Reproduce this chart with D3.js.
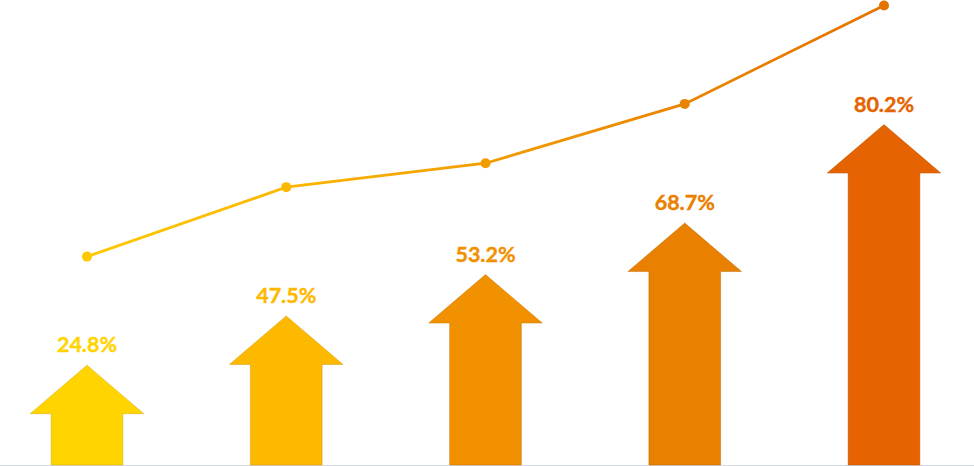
<!DOCTYPE html>
<html>
<head>
<meta charset="utf-8">
<script src="https://cdn.jsdelivr.net/npm/d3@7"></script>
<style>
  html, body { margin: 0; padding: 0; background: #fff; }
  svg { display: block; }
</style>
</head>
<body>
<svg id="chart" width="974" height="466"></svg>
<script>
// ---- data ----
const categories = ["1", "2", "3", "4", "5"];
const labelValues = [24.8, 47.5, 53.2, 68.7, 80.2];
const arrowValues = [21.7, 32.4, 41.4, 52.6, 74.0];
const lineValues = [45.3, 60.4, 65.6, 78.5, 99.9];
const colors = ["#FFD400", "#FDB900", "#F19100", "#E98000", "#E56300"];
const lineColors = ["#FFC800", "#FBB700", "#F29C00", "#EA8400", "#E47400"];

// ---- layout ----
const W = 974, H = 466;
const baseY = 465;
const svg = d3.select("#chart");

const x = d3.scalePoint().domain(categories).range([87, 884]);
const y = d3.scaleLinear().domain([0, 100]).range([baseY, 5]);
const step = x.step();
const headW = step * 0.57, shaftW = step * 0.36, headH = 48.5;

// baseline
svg.append("line")
  .attr("x1", 0).attr("x2", W)
  .attr("y1", baseY + 0.5).attr("y2", baseY + 0.5)
  .attr("stroke", "#d3d8e0").attr("stroke-width", 1);

// arrows
const arrowPath = (d, i) => {
  const cx = x(categories[i]);
  const top = y(d);
  const hb = top + headH;
  return `M${cx},${top} L${cx + headW / 2},${hb} L${cx + shaftW / 2},${hb} L${cx + shaftW / 2},${baseY} L${cx - shaftW / 2},${baseY} L${cx - shaftW / 2},${hb} L${cx - headW / 2},${hb} Z`;
};
svg.append("g").selectAll("path")
  .data(arrowValues)
  .join("path")
  .attr("d", arrowPath)
  .attr("fill", (d, i) => colors[i])
  .attr("stroke", (d, i) => d3.color(colors[i]).darker(0.6))
  .attr("stroke-opacity", 0.45)
  .attr("stroke-width", 1);

// labels
svg.append("g").selectAll("text")
  .data(labelValues)
  .join("text")
  .attr("x", (d, i) => x(categories[i]))
  .attr("y", (d, i) => y(arrowValues[i]) - 13)
  .attr("text-anchor", "middle")
  .attr("font-family", "Lato, 'Open Sans', sans-serif")
  .attr("font-weight", "bold")
  .attr("font-size", 21.5)
  .attr("fill", (d, i) => colors[i])
  .attr("stroke", (d, i) => colors[i])
  .attr("stroke-width", 0.4)
  .text(d => d.toFixed(1) + "%");

// line gradient
const defs = svg.append("defs");
const grad = defs.append("linearGradient")
  .attr("id", "lineGrad")
  .attr("gradientUnits", "userSpaceOnUse")
  .attr("x1", x(categories[0])).attr("x2", x(categories[categories.length - 1]))
  .attr("y1", 0).attr("y2", 0);
grad.selectAll("stop")
  .data(lineColors)
  .join("stop")
  .attr("offset", (d, i) => i / (lineColors.length - 1))
  .attr("stop-color", d => d);

const line = d3.line()
  .x((d, i) => x(categories[i]))
  .y(d => y(d));

svg.append("path")
  .datum(lineValues)
  .attr("d", line)
  .attr("fill", "none")
  .attr("stroke", "url(#lineGrad)")
  .attr("stroke-width", 2.8);

svg.append("g").selectAll("circle")
  .data(lineValues)
  .join("circle")
  .attr("cx", (d, i) => x(categories[i]))
  .attr("cy", d => y(d))
  .attr("r", 5)
  .attr("fill", (d, i) => lineColors[i]);
</script>
</body>
</html>
